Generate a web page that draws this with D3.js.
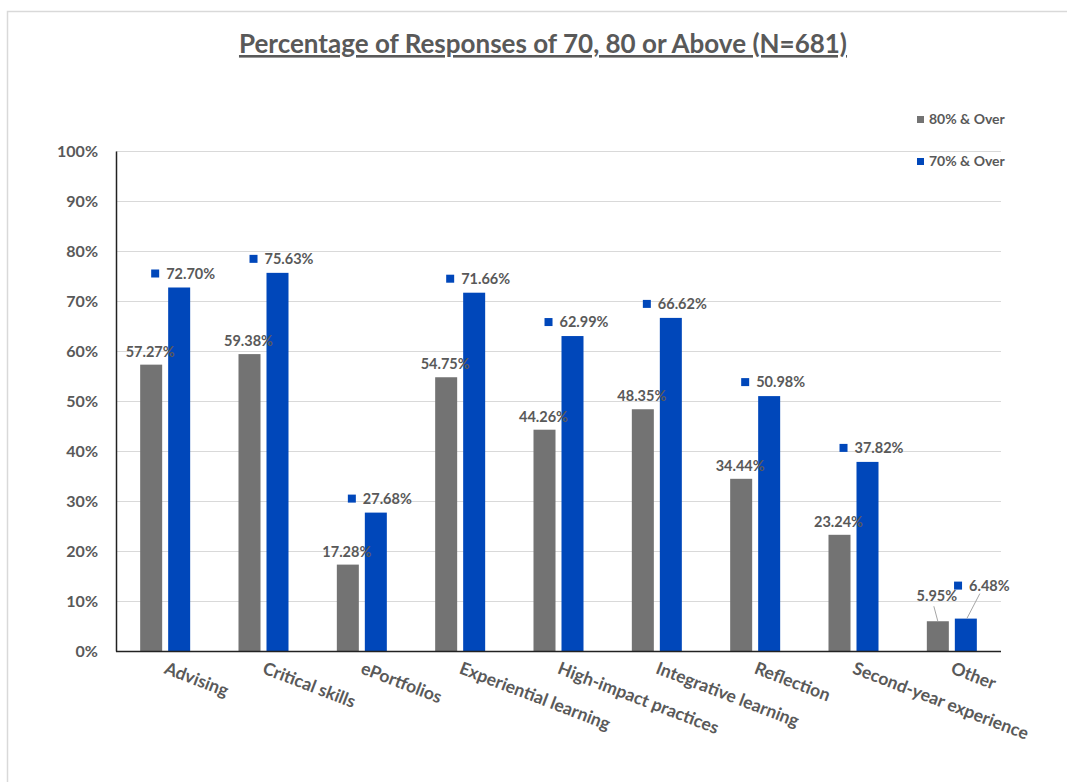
<!DOCTYPE html>
<html>
<head>
<meta charset="utf-8">
<script src="https://cdn.jsdelivr.net/npm/d3@7"></script>
<style>
  body { margin: 0; background: #fff; }
  text { font-family: Lato, "Open Sans", sans-serif; font-weight: bold; fill: #595959; }
</style>
</head>
<body>
<div id="chart"></div>
<script>
// === data ===
const categories = ["Advising", "Critical skills", "ePortfolios", "Experiential learning",
  "High-impact practices", "Integrative learning", "Reflection", "Second-year experience", "Other"];
const over80 = [57.27, 59.38, 17.28, 54.75, 44.26, 48.35, 34.44, 23.24, 5.95];
const over70 = [72.70, 75.63, 27.68, 71.66, 62.99, 66.62, 50.98, 37.82, 6.48];
const seriesNames = ["80% & Over", "70% & Over"];
const yTicks = [0, 10, 20, 30, 40, 50, 60, 70, 80, 90, 100];

const width = 1067, height = 782;
const plot = {left: 116, right: 1001, top: 151, bottom: 651};
const colors = {"80% & Over": "#737373", "70% & Over": "#0047ba"};

const svg = d3.select("#chart").append("svg")
  .attr("width", width).attr("height", height);

// outer frame (only top/left edges are visible in the picture)
svg.append("rect").attr("x", 7.5).attr("y", 11.5)
  .attr("width", width + 10).attr("height", height + 10)
  .attr("fill", "none").attr("stroke", "#d9d9d9").attr("stroke-width", 1.5);

// title
svg.append("text").attr("x", 543).attr("y", 53)
  .attr("text-anchor", "middle")
  .style("font-size", "26px").style("text-decoration", "underline")
  .text("Percentage of Responses of 70, 80 or Above (N=681)");

const x = d3.scaleBand().domain(categories).range([plot.left, plot.right]);
const y = d3.scaleLinear().domain([0, 100]).range([plot.bottom, plot.top]);
const xSub = d3.scaleBand().domain(seriesNames).range([-25, 25]).paddingInner(0.214);

// gridlines
svg.append("g")
  .selectAll("line").data(yTicks.filter(t => t > 0)).join("line")
  .attr("x1", plot.left).attr("x2", plot.right)
  .attr("y1", d => y(d) + 0.5).attr("y2", d => y(d) + 0.5)
  .attr("stroke", "#d9d9d9").attr("stroke-width", 1.2);

// y axis
const yAxis = svg.append("g").attr("transform", `translate(${plot.left},0)`)
  .call(d3.axisLeft(y).tickValues(yTicks).tickSize(0).tickPadding(18).tickFormat(d => d + "%"));
yAxis.select(".domain").attr("stroke", "#222").attr("stroke-width", 1.5);
yAxis.selectAll("text").style("font-size", "16px").style("font-family", "Lato, sans-serif").attr("fill", "#595959");

// bars
const rows = categories.map((c, i) => ({cat: c, vals: [
  {series: seriesNames[0], v: over80[i]},
  {series: seriesNames[1], v: over70[i]}
]}));

const groups = svg.append("g").selectAll("g").data(rows).join("g")
  .attr("transform", d => `translate(${x(d.cat) + x.bandwidth() / 2},0)`);

groups.selectAll("rect").data(d => d.vals).join("rect")
  .attr("x", d => xSub(d.series))
  .attr("width", xSub.bandwidth())
  .attr("y", d => y(d.v))
  .attr("height", d => y(0) - y(d.v))
  .attr("fill", d => colors[d.series]);

// x axis baseline
svg.append("line").attr("x1", plot.left).attr("x2", plot.right)
  .attr("y1", plot.bottom + 0.5).attr("y2", plot.bottom + 0.5)
  .attr("stroke", "#222").attr("stroke-width", 1.5);

// category labels, rotated
svg.append("g").selectAll("text").data(categories).join("text")
  .attr("transform", d => `translate(${x(d) + x.bandwidth() / 2 - 2},${plot.bottom + 22}) rotate(21)`)
  .style("font-size", "17.5px")
  .text(d => d);

// label nudges for the crowded last group (leader lines drawn there)
const grayLift = categories.map(c => c === "Other" ? 20 : 8);
const blueLift = categories.map(c => c === "Other" ? 33 : 14);
const blueShift = categories.map(c => c === "Other" ? 16 : 4);

const gc = c => x(c) + x.bandwidth() / 2;

// gray data labels
svg.append("g").selectAll("text").data(rows).join("text")
  .attr("x", (d, i) => gc(d.cat) + xSub(seriesNames[0]) + xSub.bandwidth() / 2 - 1)
  .attr("y", (d, i) => y(d.vals[0].v) - grayLift[i])
  .attr("text-anchor", "middle")
  .style("font-size", "14.5px")
  .text(d => d.vals[0].v.toFixed(2) + "%");

// blue data labels with legend key
const blueLab = svg.append("g").selectAll("g").data(rows).join("g");
blueLab.each(function(d, i) {
  const g = d3.select(this);
  const t = g.append("text").style("font-size", "14.5px").attr("dy", "0.35em")
    .text(d.vals[1].v.toFixed(2) + "%");
  const tw = t.node().getComputedTextLength();
  const total = 8 + 7 + tw;
  const cx = gc(d.cat) + xSub(seriesNames[1]) + xSub.bandwidth() / 2 + blueShift[i];
  const x0 = cx - total / 2;
  const yc = y(d.vals[1].v) - blueLift[i];
  g.append("rect").attr("x", x0).attr("y", yc - 4).attr("width", 8).attr("height", 8)
    .attr("fill", colors[seriesNames[1]]);
  t.attr("x", x0 + 15).attr("y", yc);
});

// leader lines for "Other"
const oi = categories.indexOf("Other");
const oc = gc("Other");
svg.append("line")
  .attr("x1", oc + xSub(seriesNames[0]) + xSub.bandwidth() / 2 - 4)
  .attr("y1", y(over80[oi]) - grayLift[oi] + 5)
  .attr("x2", oc + xSub(seriesNames[0]) + xSub.bandwidth() / 2)
  .attr("y2", y(over80[oi]))
  .attr("stroke", "#a6a6a6");
svg.append("line")
  .attr("x1", oc + xSub(seriesNames[1]) + xSub.bandwidth() / 2 + 14)
  .attr("y1", y(over70[oi]) - blueLift[oi] + 8)
  .attr("x2", oc + xSub(seriesNames[1]) + xSub.bandwidth() / 2 + 1)
  .attr("y2", y(over70[oi]))
  .attr("stroke", "#a6a6a6");

// legend
const legend = svg.append("g").selectAll("g").data(seriesNames).join("g")
  .attr("transform", (d, i) => `translate(917,${119 + i * 42})`);
legend.append("rect").attr("x", 0).attr("y", -3).attr("width", 7).attr("height", 7)
  .attr("fill", d => colors[d]);
legend.append("text").attr("x", 12).attr("y", 0).attr("dy", "0.35em")
  .style("font-size", "14px").text(d => d);
</script>
</body>
</html>
